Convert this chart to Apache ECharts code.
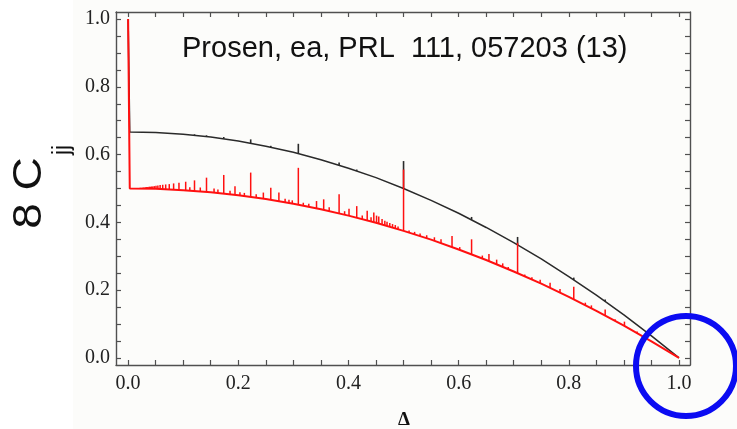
<!DOCTYPE html>
<html>
<head>
<meta charset="utf-8">
<script src="https://cdn.jsdelivr.net/npm/echarts@6/dist/echarts.min.js"></script>
<style>html,body{margin:0;padding:0;background:#fff}#c{width:737px;height:429px}</style>
</head>
<body>
<div id="c"></div>
<script>
// ---- data ----
const deltas = [0, 0.003, 0.05, 0.1, 0.15, 0.2, 0.25, 0.3, 0.35, 0.4, 0.45, 0.5, 0.55, 0.6, 0.65, 0.7, 0.75, 0.8, 0.85, 0.9, 0.95, 1.0];
const blackVals = [1.0, 0.667, 0.665, 0.660, 0.652, 0.640, 0.625, 0.607, 0.585, 0.560, 0.532, 0.500, 0.465, 0.427, 0.385, 0.340, 0.292, 0.240, 0.185, 0.127, 0.065, 0.000];
const redVals   = [1.0, 0.500, 0.499, 0.495, 0.489, 0.480, 0.469, 0.455, 0.439, 0.420, 0.399, 0.375, 0.349, 0.320, 0.289, 0.255, 0.219, 0.180, 0.139, 0.095, 0.049, 0.000];
// spikes: [delta, base, top]
const blackSpikes = [
  [0.1205,0.657,0.660],[0.1423,0.653,0.657],[0.1736,0.647,0.652],[0.2225,0.634,0.645],[0.259,0.622,0.626],
  [0.309,0.603,0.632],[0.383,0.569,0.577],[0.415,0.552,0.556],[0.5,0.500,0.581],[0.6235,0.408,0.416],
  [0.707,0.333,0.357],[0.809,0.230,0.237],[0.866,0.167,0.172]
];
const redSpikes = [
  [0.016,0.5,0.501],[0.019,0.5,0.501],[0.022,0.5,0.502],[0.025,0.5,0.502],[0.0266,0.5,0.502],[0.0285,0.5,0.503],
  [0.0308,0.5,0.503],[0.032,0.499,0.503],[0.0334,0.499,0.504],[0.0349,0.499,0.504],[0.0365,0.499,0.504],
  [0.0383,0.499,0.505],[0.0402,0.499,0.505],[0.0424,0.499,0.506],[0.0448,0.499,0.506],[0.0475,0.499,0.507],
  [0.0506,0.499,0.508],[0.054,0.499,0.509],[0.0581,0.498,0.510],[0.0628,0.498,0.511],[0.0682,0.498,0.512],
  [0.0747,0.497,0.513],[0.0826,0.497,0.515],[0.0923,0.496,0.517],[0.1045,0.495,0.520],[0.112,0.494,0.504],
  [0.1205,0.493,0.524],[0.131,0.491,0.503],[0.1423,0.490,0.532],[0.156,0.488,0.500],[0.163,0.487,0.497],
  [0.1736,0.485,0.540],[0.185,0.483,0.493],[0.194,0.481,0.507],[0.203,0.479,0.489],[0.211,0.478,0.487],
  [0.2225,0.475,0.547],[0.2325,0.473,0.483],[0.2455,0.470,0.488],[0.259,0.466,0.502],[0.2737,0.463,0.488],
  [0.285,0.459,0.470],[0.292,0.457,0.467],[0.298,0.456,0.465],[0.309,0.452,0.561],[0.318,0.449,0.458],
  [0.328,0.446,0.455],[0.342,0.442,0.463],[0.355,0.437,0.468],[0.365,0.433,0.445],[0.383,0.427,0.483],
  [0.393,0.423,0.433],[0.401,0.420,0.440],[0.415,0.414,0.448],[0.425,0.410,0.420],[0.434,0.406,0.434],
  [0.441,0.403,0.415],[0.446,0.401,0.429],[0.451,0.398,0.420],[0.455,0.397,0.417],[0.461,0.394,0.410],
  [0.466,0.391,0.405],[0.47,0.390,0.402],[0.475,0.387,0.398],[0.48,0.385,0.395],[0.485,0.382,0.392],
  [0.49,0.380,0.388],[0.5,0.375,0.556],[0.51,0.370,0.376],[0.52,0.365,0.372],[0.53,0.360,0.367],
  [0.542,0.353,0.362],[0.556,0.345,0.356],[0.568,0.339,0.350],[0.588,0.327,0.360],[0.602,0.319,0.327],
  [0.6235,0.306,0.350],[0.643,0.293,0.302],[0.655,0.286,0.307],[0.669,0.276,0.290],[0.68,0.269,0.279],
  [0.69,0.262,0.268],[0.707,0.250,0.340],[0.72,0.241,0.246],[0.733,0.231,0.238],[0.748,0.220,0.231],
  [0.766,0.207,0.222],[0.784,0.193,0.203],[0.809,0.173,0.210],[0.83,0.156,0.163],[0.841,0.146,0.155],
  [0.866,0.125,0.143],[0.884,0.109,0.114],[0.901,0.094,0.107],[0.924,0.073,0.078]
];
const tickValues = [0,0.05,0.1,0.15,0.2,0.25,0.3,0.35,0.4,0.45,0.5,0.55,0.6,0.65,0.7,0.75,0.8,0.85,0.9,0.95,1.0];
const labelValues = [0,0.2,0.4,0.6,0.8,1.0];
const titleText = 'Prosen, ea, PRL  111, 057203 (13)';
const xName = 'Δ';

// ---- chart ----
const chart = echarts.init(document.getElementById('c'), null, {renderer:'canvas'});
const frame = '#505050';
const xMin = -0.022, xMax = 1.02, yMin = -0.021, yMax = 1.021;
function axis(pos, isX, labels){
  return {
    type:'value', position:pos, min: isX?xMin:yMin, max: isX?xMax:yMax,
    axisLine:{show:true, onZero:false, lineStyle:{color:frame, width:1.4}},
    axisTick:{show:true, inside:true, length:5, customValues:tickValues, lineStyle:{color:frame, width:1.2}},
    axisLabel:{show:labels, customValues:labelValues, formatter:v=>Number(v).toFixed(1),
      fontFamily:'Liberation Serif', fontSize:20, color:'#222', margin: isX?9:6},
    splitLine:{show:false}
  };
}
function pairs(xs, ys){ return xs.map((x,i)=>[x, ys[i]]); }
function spikeSeries(data, color, width){
  return {
    type:'custom', data:data, encode:{x:0, y:[1,2]}, clip:true, z:5,
    renderItem:(params, api)=>{
      const a = api.coord([api.value(0), api.value(1)]);
      const b = api.coord([api.value(0), api.value(2)]);
      return {type:'line', shape:{x1:a[0], y1:a[1], x2:b[0], y2:b[1]}, style:{stroke:color, lineWidth:width}};
    }
  };
}
chart.setOption({
  backgroundColor:'#ffffff',
  animation:false,
  grid:{left:116, right:47, top:12, bottom:64, containLabel:false, outerBoundsMode:'none'},
  xAxis:[axis('bottom', true, true), axis('top', true, false)],
  yAxis:[axis('left', false, true), axis('right', false, false)],
  series:[
    {type:'line', data:pairs(deltas, blackVals), showSymbol:false, z:3,
     lineStyle:{color:'#2a2a2a', width:1.5}},
    Object.assign(spikeSeries(blackSpikes, '#2a2a2a', 1.6), {z:4}),
    {type:'line', data:pairs(deltas, redVals), showSymbol:false, z:6,
     lineStyle:{color:'#ff1010', width:2}},
    Object.assign(spikeSeries(redSpikes, '#ff1010', 1.5), {z:7})
  ],
  graphic:[
    {type:'rect', z:-100, silent:true, shape:{x:73, y:0, width:664, height:429}, style:{fill:'#fcfcfa'}},
    {type:'text', z:100, x:182, y:49, style:{text:titleText, font:'29px "Liberation Sans"', fill:'#111', align:'left', verticalAlign:'middle'}},
    {type:'text', z:100, x:404, y:420, style:{text:xName, font:'bold 19px "Liberation Serif"', fill:'#111', align:'center', verticalAlign:'middle'}},
    {type:'text', z:100, x:50, y:193, rotation:Math.PI/2, scaleX:1.15,
     style:{text:'8 C', font:'40px "Liberation Sans"', fill:'#111', align:'center', verticalAlign:'bottom'}},
    {type:'text', z:100, x:51, y:155, rotation:Math.PI/2,
     style:{text:'jj', font:'23px "Liberation Sans"', fill:'#111', align:'left', verticalAlign:'top'}},
    {type:'circle', z:100, silent:true, shape:{cx:686, cy:366, r:50}, style:{fill:'none', stroke:'#0b0bf2', lineWidth:6}}
  ]
});
</script>
</body>
</html>
